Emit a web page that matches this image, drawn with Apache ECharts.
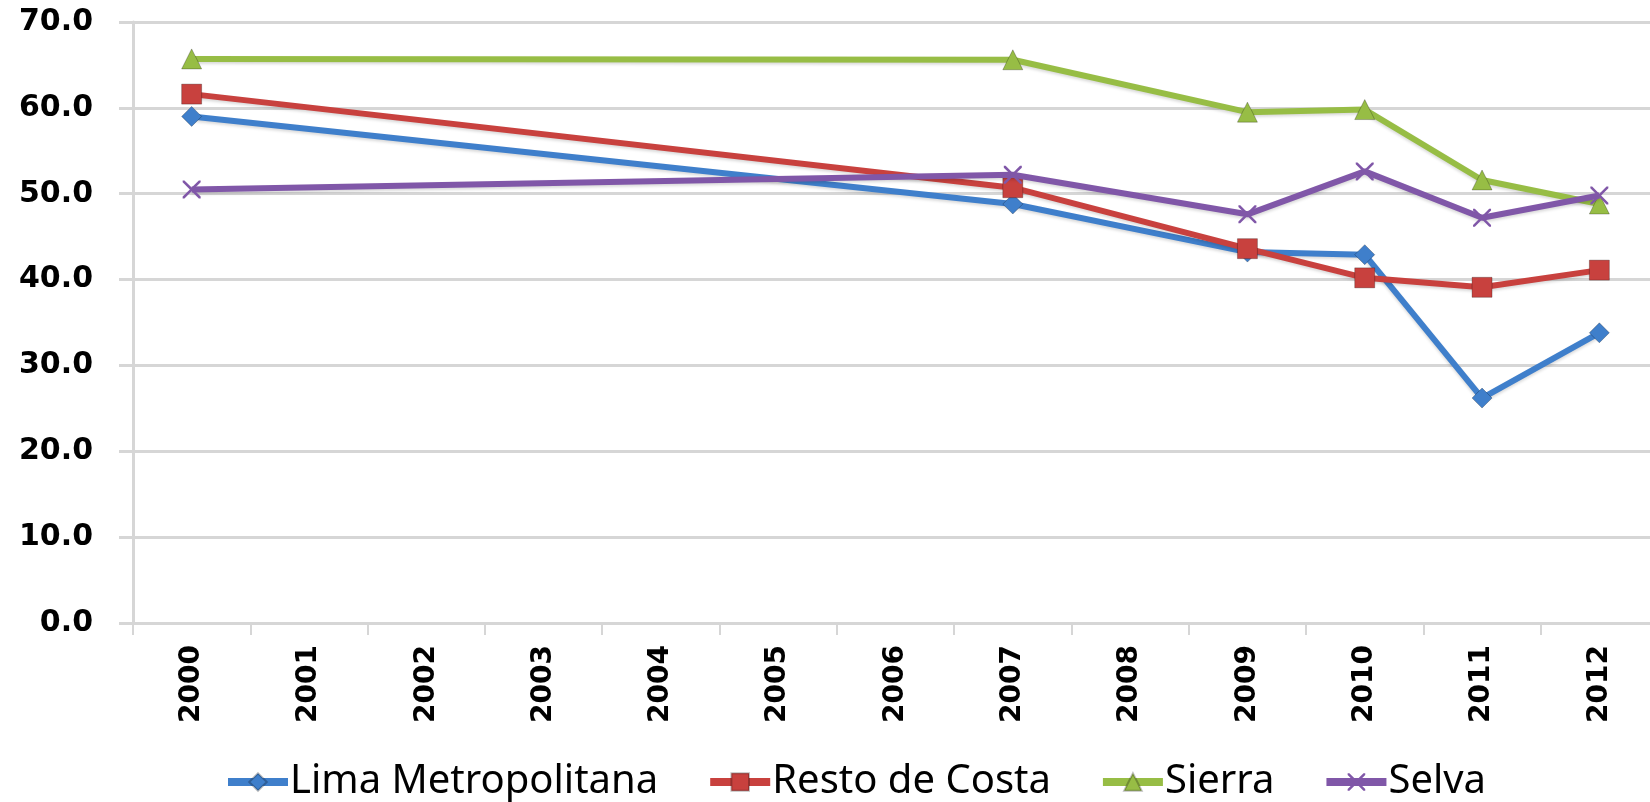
<!DOCTYPE html>
<html>
<head>
<meta charset="utf-8">
<script src="https://cdn.jsdelivr.net/npm/echarts@6/dist/echarts.min.js"></script>
<style>
  html, body { margin: 0; padding: 0; background: #fff; }
  #chart { width: 1650px; height: 802px; }
</style>
</head>
<body>
<div id="chart"></div>
<script>
// años (eje X)
var years = ['2000', '2001', '2002', '2003', '2004', '2005', '2006', '2007', '2008', '2009', '2010', '2011', '2012'];
// regiones
var seriesNames = ['Lima Metropolitana', 'Resto de Costa', 'Sierra', 'Selva'];
// valores, null = sin dato
var limaData   = [59.0, null, null, null, null, null, null, 48.8, null, 43.2, 42.9, 26.2, 33.8];
var restoData  = [61.6, null, null, null, null, null, null, 50.7, null, 43.6, 40.2, 39.1, 41.1];
var sierraData = [65.7, null, null, null, null, null, null, 65.6, null, 59.5, 59.8, 51.6, 48.8];
var selvaData  = [50.5, null, null, null, null, null, null, 52.2, null, 47.6, 52.6, 47.2, 49.8];
// eje Y
var yMin = 0, yMax = 70, yStep = 10;

var colors = ['#3f7fcb', '#c8413e', '#97bd45', '#8057a8'];
var crossPath = 'path://M0,0 L2,0 L10,8 L18,0 L20,0 L20,2 L12,10 L20,18 L20,20 L18,20 L10,12 L2,20 L0,20 L0,18 L8,10 L0,2 Z';
var symbols = ['diamond', 'rect', 'triangle', crossPath];
var symbolSizes = [20, 20, 20, 18];
var allData = [limaData, restoData, sierraData, selvaData];

var grayLine = '#d6d6d6';

var series = [];
for (var i = 0; i < seriesNames.length; i++) {
    series.push({
        name: seriesNames[i],
        type: 'line',
        data: allData[i],
        connectNulls: true,
        symbol: symbols[i],
        symbolSize: symbolSizes[i],
        showAllSymbol: true,
        lineStyle: {
            width: 6,
            color: colors[i],
            shadowColor: 'rgba(0,0,0,0.15)',
            shadowBlur: 3,
            shadowOffsetY: 2
        },
        itemStyle: {
            color: colors[i],
            borderColor: i === 3 ? colors[i] : 'rgba(0,0,0,0.25)',
            borderWidth: i === 3 ? 0 : 1
        },
        z: 2 + i
    });
}

var option = {
    backgroundColor: '#ffffff',
    animation: false,
    color: colors,
    grid: {
        left: 133,
        top: 22,
        width: 1525,
        height: 601,
        outerBoundsMode: 'none'
    },
    legend: {
        data: seriesNames,
        left: 224,
        top: 762,
        padding: 0,
        itemWidth: 60,
        itemHeight: 22,
        itemGap: 48,
        lineStyle: { width: 8 },
        textStyle: {
            fontFamily: 'Noto Sans',
            fontSize: 40,
            color: '#000',
            padding: [0, 0, 0, -3]
        }
    },
    xAxis: {
        type: 'category',
        data: years,
        boundaryGap: true,
        axisLine: { lineStyle: { color: grayLine, width: 3 } },
        axisTick: { show: true, length: 12, lineStyle: { color: grayLine, width: 2 } },
        axisLabel: {
            interval: 0,
            rotate: 90,
            margin: 22,
            color: '#000',
            fontFamily: 'DejaVu Sans',
            fontWeight: 'bold',
            fontSize: 28
        },
        splitLine: { show: false }
    },
    yAxis: {
        type: 'value',
        min: yMin,
        max: yMax,
        interval: yStep,
        axisLine: { show: true, lineStyle: { color: grayLine, width: 3 } },
        axisTick: { show: true, length: 14, lineStyle: { color: grayLine, width: 3 } },
        axisLabel: {
            margin: 40,
            color: '#000',
            fontFamily: 'DejaVu Sans',
            fontWeight: 'bold',
            fontSize: 30,
            formatter: function (v) { return v.toFixed(1); }
        },
        splitLine: { show: true, lineStyle: { color: grayLine, width: 3 } }
    },
    series: series
};

var chart = echarts.init(document.getElementById('chart'));
chart.setOption(option);
window.addEventListener('resize', function () {
    chart.resize();
});
</script>
</body>
</html>
